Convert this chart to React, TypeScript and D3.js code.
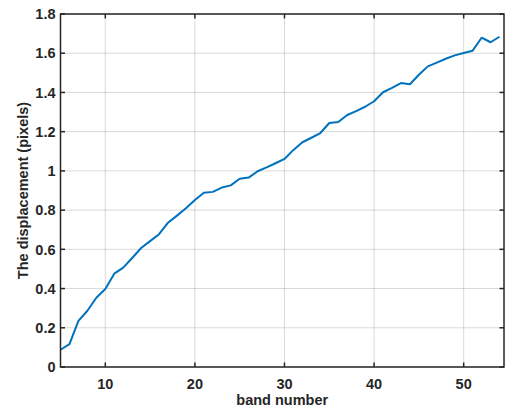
import React from "react";
import * as d3 from "d3";

const bands = [5,6,7,8,9,10,11,12,13,14,15,16,17,18,19,20,21,22,23,24,25,26,27,28,29,30,31,32,33,34,35,36,37,38,39,40,41,42,43,44,45,46,47,48,49,50,51,52,53,54];
const displacement = [0.088,0.117,0.235,0.287,0.353,0.398,0.476,0.507,0.556,0.607,0.642,0.677,0.736,0.772,0.809,0.852,0.889,0.893,0.915,0.926,0.96,0.966,0.998,1.018,1.039,1.061,1.107,1.146,1.169,1.193,1.244,1.249,1.285,1.305,1.327,1.355,1.401,1.423,1.448,1.442,1.49,1.533,1.552,1.572,1.589,1.601,1.613,1.679,1.656,1.684];
const xTicks = [10,20,30,40,50];
const yTicks = [0,0.2,0.4,0.6,0.8,1,1.2,1.4,1.6,1.8];
const xLabel = "band number";
const yLabel = "The displacement (pixels)";

export default function App() {
  const W = 507, H = 411;
  const L = 60.5, R = 504, T = 14, B = 367;
  const x = d3.scaleLinear().domain([5, 54.5]).range([L, R]);
  const y = d3.scaleLinear().domain([0, 1.8]).range([B, T]);
  const line = d3.line<number>().x((_, i) => x(bands[i])).y((d) => y(d));
  const axisColor = "#262626";
  const font = "'Liberation Sans', Arial, Helvetica, sans-serif";
  const tick = 4.5;
  const fs = 14.5;
  return (
    <div style={{ position: "absolute", left: 0, top: 0 }}>
      <svg width={W} height={H} style={{ display: "block", background: "#fff" }}>
        <g>
          {xTicks.map((t) => (
            <line key={"gx" + t} x1={x(t)} x2={x(t)} y1={T} y2={B} stroke="#000" strokeOpacity={0.15} strokeWidth={1} />
          ))}
          {yTicks.map((t) => (
            <line key={"gy" + t} x1={L} x2={R} y1={y(t)} y2={y(t)} stroke="#000" strokeOpacity={0.15} strokeWidth={1} />
          ))}
        </g>
        <path d={line(displacement) || ""} fill="none" stroke="#0072BD" strokeWidth={2} strokeLinejoin="round" />
        <rect x={L} y={T} width={R - L} height={B - T} fill="none" stroke={axisColor} strokeWidth={1.5} />
        {xTicks.map((t) => (
          <g key={"tx" + t}>
            <line x1={x(t)} x2={x(t)} y1={B} y2={B - tick} stroke={axisColor} strokeWidth={1.5} />
            <line x1={x(t)} x2={x(t)} y1={T} y2={T + tick} stroke={axisColor} strokeWidth={1.5} />
            <text x={x(t)} y={389} textAnchor="middle" fontFamily={font} fontWeight="bold" fontSize={fs} fill={axisColor}>{t}</text>
          </g>
        ))}
        {yTicks.map((t) => (
          <g key={"ty" + t}>
            <line x1={L} x2={L + tick} y1={y(t)} y2={y(t)} stroke={axisColor} strokeWidth={1.5} />
            <line x1={R} x2={R - tick} y1={y(t)} y2={y(t)} stroke={axisColor} strokeWidth={1.5} />
            <text x={55.5} y={y(t)} dy="0.36em" textAnchor="end" fontFamily={font} fontWeight="bold" fontSize={fs} fill={axisColor}>{String(t)}</text>
          </g>
        ))}
        <text x={(L + R) / 2} y={405} textAnchor="middle" fontFamily={font} fontWeight="bold" fontSize={fs} fill={axisColor}>{xLabel}</text>
        <text transform={`translate(27.5, ${(T + B) / 2}) rotate(-90)`} textAnchor="middle" fontFamily={font} fontWeight="bold" fontSize={fs} fill={axisColor}>{yLabel}</text>
      </svg>
    </div>
  );
}
